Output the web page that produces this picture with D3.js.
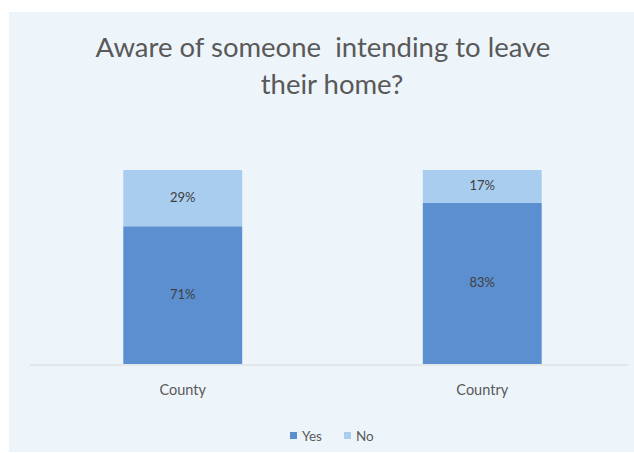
<!DOCTYPE html>
<html>
<head>
<meta charset="utf-8">
<script src="https://cdn.jsdelivr.net/npm/d3@7"></script>
<style>
  html, body { margin: 0; padding: 0; background: #ffffff; }
  svg { display: block; }
</style>
</head>
<body>
<svg id="chart" width="634" height="453"></svg>
<script>
// Share of respondents aware of someone intending to leave their home
const categories = ["County", "Country"];
const seriesNames = ["Yes", "No"];
const yesValues = [71, 83];
const noValues = [29, 17];
const colors = ["#5b8fcf", "#a9cdef"];

const width = 634, height = 453;
const font = "Lato, 'Open Sans', sans-serif";
const svg = d3.select("#chart");

// panel background
svg.append("rect")
  .attr("x", 9).attr("y", 12)
  .attr("width", width - 9).attr("height", 440)
  .attr("fill", "#eef5fa");

// title (two lines)
const title = svg.append("text")
  .attr("text-anchor", "middle")
  .attr("fill", "#595959")
  .style("font-family", font)
  .style("font-size", "27.5px")
  .style("white-space", "pre");
title.append("tspan").attr("x", 323).attr("y", 57).text("Aware of someone  intending to leave");
title.append("tspan").attr("x", 332).attr("y", 94).text("their home?");

const x = d3.scaleBand()
  .domain(categories)
  .range([33, 632])
  .paddingInner(0.603)
  .paddingOuter(0.3015);

const y = d3.scaleLinear().domain([0, 100]).range([364, 170]);

const rows = categories.map((c, i) => ({ category: c, Yes: yesValues[i], No: noValues[i] }));
const stacked = d3.stack().keys(seriesNames)(rows);

const layers = svg.append("g").selectAll("g")
  .data(stacked)
  .join("g")
  .attr("fill", (d, i) => colors[i]);

layers.selectAll("rect")
  .data(d => d)
  .join("rect")
  .attr("x", d => x(d.data.category))
  .attr("width", x.bandwidth())
  .attr("y", d => y(d[1]))
  .attr("height", d => y(d[0]) - y(d[1]));

// value labels centred in each segment
layers.selectAll("text")
  .data(d => d)
  .join("text")
  .attr("x", d => x(d.data.category) + x.bandwidth() / 2)
  .attr("y", d => (y(d[0]) + y(d[1])) / 2 + 4)
  .attr("text-anchor", "middle")
  .attr("fill", "#404040")
  .style("font-family", font)
  .style("font-size", "13px")
  .text(d => (d[1] - d[0]) + "%");

// category axis
const axis = svg.append("g")
  .attr("transform", "translate(0,365)")
  .call(d3.axisBottom(x).tickSize(0).tickPadding(20));
axis.select(".domain").remove();
axis.append("line")
  .attr("x1", 30).attr("x2", 628)
  .attr("stroke", "#d9d9d9").attr("stroke-width", 1);
axis.selectAll(".tick text")
  .attr("fill", "#595959")
  .style("font-family", font)
  .style("font-size", "14.5px");

// legend
const legend = svg.append("g").attr("transform", "translate(290,436)");
const legendItems = legend.selectAll("g")
  .data(seriesNames)
  .join("g")
  .attr("transform", (d, i) => `translate(${i * 54},0)`);
legendItems.append("rect")
  .attr("x", 0).attr("y", -4)
  .attr("width", 7).attr("height", 7)
  .attr("fill", (d, i) => colors[i]);
legendItems.append("text")
  .attr("x", 12).attr("y", 4.5)
  .attr("fill", "#595959")
  .style("font-family", font)
  .style("font-size", "13.5px")
  .text(d => d);
</script>
</body>
</html>
